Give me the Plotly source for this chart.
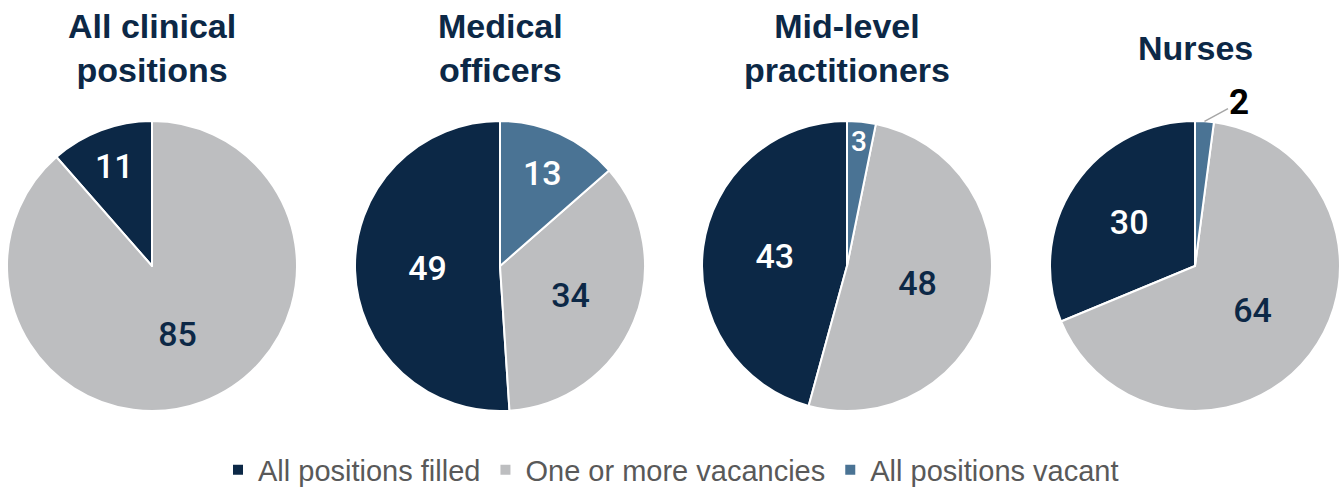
import math
import plotly.graph_objects as go

categories = ["All positions filled", "One or more vacancies", "All positions vacant"]
panel_titles = ["All clinical<br>positions", "Medical<br>officers", "Mid-level<br>practitioners", "Nurses"]
filled = [11, 49, 43, 30]
vacancies = [85, 34, 48, 64]
vacant = [0, 13, 3, 2]

colors = ["#0c2846", "#bdbec0", "#4a7394"]
text_colors = ["#ffffff", "#0c2846", "#ffffff"]
title_color = "#0c2846"
label_font = "Roboto, Liberation Sans, sans-serif"

W, H = 1342, 487
centers_px = [152, 500, 847, 1195]
cy_px = 266
r_px = 145

fig = go.Figure()
annotations = []
for i in range(4):
    vals = [filled[i], vacancies[i], vacant[i]]
    total = sum(vals)
    texts = []
    for j, v in enumerate(vals):
        if v == 0 or (j == 2 and v < 5):
            texts.append("")
        else:
            texts.append(str(v))
    cx = centers_px[i]
    dom_x = [(cx - r_px) / W, (cx + r_px) / W]
    dom_y = [1 - (cy_px + r_px) / H, 1 - (cy_px - r_px) / H]
    fig.add_trace(go.Pie(
        labels=categories,
        values=vals,
        text=texts,
        textinfo="text",
        textposition="inside",
        insidetextorientation="horizontal",
        sort=False,
        direction="counterclockwise",
        rotation=-360.0 * filled[i] / total,
        marker=dict(colors=colors, line=dict(color="white", width=2)),
        insidetextfont=dict(family=label_font, size=34, weight=500, color=text_colors),
        domain=dict(x=dom_x, y=dom_y),
        showlegend=(i == 0),
        hoverinfo="label+value",
    ))
    annotations.append(dict(
        text="<b>%s</b>" % panel_titles[i], x=cx / W, y=1 - 48 / H,
        xref="paper", yref="paper", xanchor="center", yanchor="middle",
        showarrow=False, font=dict(family="Liberation Sans, Arial, sans-serif", size=34, color=title_color),
    ))
    # labels for the thin "all positions vacant" slices
    if 0 < vacant[i] < 5:
        mid = math.radians(180.0 * vacant[i] / total)
        if i == 2:
            k = 0.86
            px = cx + k * r_px * math.sin(mid)
            py = cy_px - k * r_px * math.cos(mid)
            annotations.append(dict(
                text=str(vacant[i]), x=px / W, y=1 - py / H, xref="paper", yref="paper",
                xanchor="center", yanchor="middle", showarrow=False,
                font=dict(family=label_font, size=28, weight=500, color="#ffffff"),
            ))
        else:
            px = cx + r_px * math.sin(mid)
            py = cy_px - r_px * math.cos(mid)
            annotations.append(dict(
                text="<b>%d</b>" % vacant[i], x=px / W, y=1 - py / H, xref="paper", yref="paper",
                showarrow=True, arrowhead=0, arrowwidth=1.5, arrowcolor="#a6a6a6",
                ax=35, ay=-19, standoff=0,
                font=dict(family=label_font, size=35, color="#000000"),
            ))

fig.update_layout(
    width=W, height=H,
    margin=dict(l=0, r=0, t=0, b=0, autoexpand=False),
    paper_bgcolor="white", plot_bgcolor="white",
    annotations=annotations,
    legend=dict(orientation="h", x=0.5, xanchor="center", y=1 - 470 / H, yanchor="middle",
                font=dict(family="Liberation Sans, Arial, sans-serif", size=29, color="#595959"),
                traceorder="normal"),
)

fig.write_html("out.html", config={"displayModeBar": False},
               post_script="document.body.style.margin='0';")
